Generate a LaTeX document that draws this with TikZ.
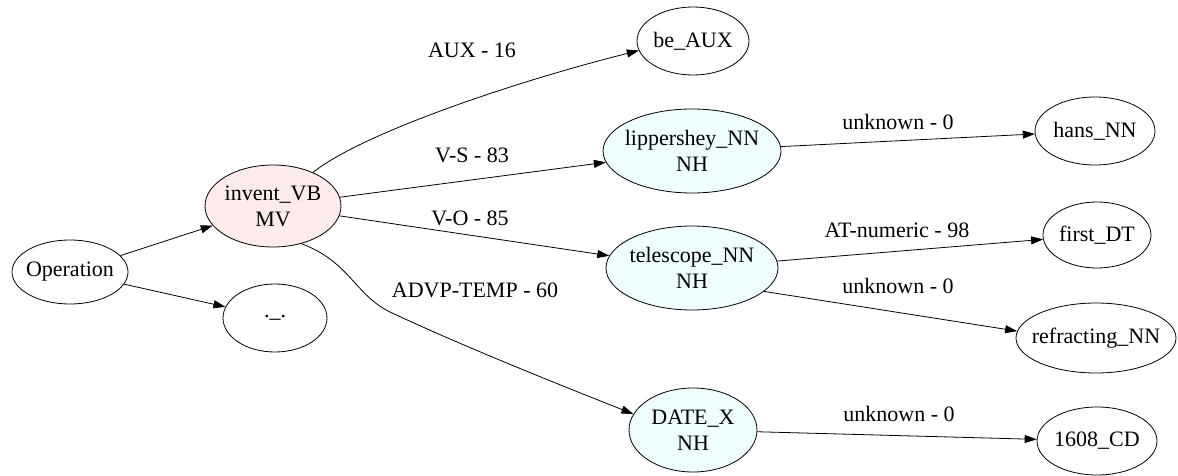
\documentclass[tikz,border=0pt]{standalone}
\usepackage{fontspec}
\setmainfont{Liberation Serif}
\usepackage{tikz}
\usetikzlibrary{shapes.geometric}
\usetikzlibrary{arrows.meta}

\definecolor{mvpink}{RGB}{253,234,234}
\definecolor{nhcyan}{RGB}{238,254,254}

\tikzset{
  word/.style = {ellipse, draw, inner xsep=-8pt, inner ysep=0pt, line width=0.8pt, align=center, font=\rmfamily\fontsize{22}{26}\selectfont},
  mv/.style = {word, fill=mvpink},
  nh/.style = {word, fill=nhcyan},
  link/.style = {line width=0.8pt, -{Triangle[length=12pt, width=8pt]}},
  rel/.style = {inner sep=0pt, font=\rmfamily\fontsize{22}{26}\selectfont}
}

\begin{document}
\begin{tikzpicture}[x=1pt, y=-1pt]

\fill[white] (0,0) rectangle (1178,476);
\useasboundingbox (0,0) rectangle (1178,476);

% -- root and its two children
\draw (70,272) node[word, minimum width=116pt, minimum height=64pt] (op) {Operation};
\draw (275,318) node[word, minimum width=104pt, minimum height=68pt] (blank) {.\_.};
\draw (273,206) node[mv, minimum width=136pt, minimum height=82pt] (invent) {invent\_VB\\MV};

% -- dependents of the verb
\draw (693,41) node[word, minimum width=112pt, minimum height=68pt] (aux) {be\_AUX};
\draw (692,151) node[nh, minimum width=178pt, minimum height=84pt] (lipp) {lippershey\_NN\\NH};
\draw (692,268) node[nh, minimum width=172pt, minimum height=84pt] (tele) {telescope\_NN\\NH};
\draw (693,430) node[nh, minimum width=128pt, minimum height=84pt] (date) {DATE\_X\\NH};

% -- leaves
\draw (1095,131) node[word, minimum width=120pt, minimum height=68pt] (hans) {hans\_NN};
\draw (1097,235) node[word, minimum width=108pt, minimum height=66pt] (first) {first\_DT};
\draw (1096,338) node[word, minimum width=160pt, minimum height=70pt] (refr) {refracting\_NN};
\draw (1097,441) node[word, minimum width=120pt, minimum height=68pt] (cd) {1608\_CD};

% -- edges
\draw[link] (op) -- (invent);
\draw[link] (op) -- (blank);
\draw[link] (invent.40) .. controls +(50,-40) and +(-120,30) .. (aux.190);
\draw[link] (invent) -- (lipp);
\draw[link] (invent) -- (tele);
\draw[link] (invent.-53) .. controls (350,262) and (355,295) .. (390,312)
                         .. controls (460,345) and (560,385) .. (date.165);
\draw[link] (lipp) -- (hans);
\draw[link] (tele) -- (first);
\draw[link] (tele.-18) -- (refr.175);
\draw[link] (date) -- (cd);

% -- edge labels
\node[rel] (lAux) at (472,50) {AUX - 16};
\node[rel] (lVS) at (472,155) {V-S - 83};
\node[rel] (lVO) at (470,218) {V-O - 85};
\node[rel] (lAdvp) at (475,290) {ADVP-TEMP - 60};
\node[rel] (lHans) at (898,122) {unknown - 0};
\node[rel] (lFirst) at (897,230) {AT-numeric - 98};
\node[rel] (lRefr) at (898,286) {unknown - 0};
\node[rel] (lCd) at (899,414) {unknown - 0};

\end{tikzpicture}
\end{document}
